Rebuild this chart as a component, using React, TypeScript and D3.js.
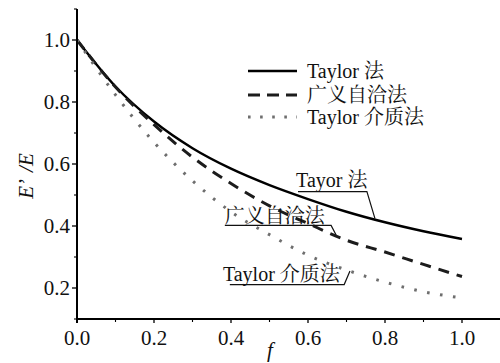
import React from 'react';
import * as d3 from 'd3';

// volume fraction f
const fValues = [0, 0.1, 0.2, 0.3, 0.4, 0.5, 0.6, 0.7, 0.8, 0.9, 1.0];
// E'/E for each method
const taylorValues = [1.0, 0.85, 0.737, 0.651, 0.585, 0.532, 0.487, 0.446, 0.412, 0.383, 0.358];
const selfConsistentValues = [1.0, 0.848, 0.727, 0.622, 0.537, 0.465, 0.408, 0.354, 0.316, 0.276, 0.237];
const mediumValues = [1.0, 0.823, 0.67, 0.546, 0.446, 0.372, 0.306, 0.258, 0.219, 0.188, 0.168];

const seriesNames = ['Taylor 法', '广义自洽法', 'Taylor 介质法'];
const calloutNames = ['Tayor 法', '广义自洽法', 'Taylor 介质法'];

const xMajorTicks = [0, 0.2, 0.4, 0.6, 0.8, 1.0];
const xMinorTicks = [0.1, 0.3, 0.5, 0.7, 0.9];
const yMajorTicks = [0.2, 0.4, 0.6, 0.8, 1.0];
const yMinorTicks = [0.1, 0.3, 0.5, 0.7, 0.9, 1.1];

const WIDTH = 500;
const HEIGHT = 363;
const FONT = '"Liberation Serif", "Noto Serif CJK SC", serif';

const x = d3.scaleLinear().domain([0, 1.1]).range([77, 500.5]);
const y = d3.scaleLinear().domain([0.1, 1.1]).range([319, 9]);

type Pt = [number, number];

const line = d3.line<Pt>()
  .x(d => x(d[0]))
  .y(d => y(d[1]))
  .curve(d3.curveMonotoneX);

const zip = (vals: number[]): Pt[] => fValues.map((f, i) => [f, vals[i]]);

const styles = [
  { stroke: '#000', width: 2.4, dash: null as string | null },
  { stroke: '#1c1c1c', width: 3, dash: '11,8' },
  { stroke: '#6e6e6e', width: 3, dash: '2.6,10.5' },
];

// callout anchors in data units: text start, underline end, leader end
const callouts = [
  { tx: 0.569, ty: 0.526, ux0: 0.574, ux1: 0.753, uy: 0.511, lx: 0.774, ly: 0.424 },
  { tx: 0.384, ty: 0.41, ux0: 0.384, ux1: 0.66, uy: 0.402, lx: 0.673, ly: 0.371 },
  { tx: 0.379, ty: 0.2226, ux0: 0.397, ux1: 0.694, uy: 0.211, lx: 0.709, ly: 0.255 },
];

export default function App() {
  const data = [taylorValues, selfConsistentValues, mediumValues].map(zip);
  const legendY = [71, 95, 117];

  return (
    <svg
      width={WIDTH}
      height={HEIGHT}
      style={{ position: 'absolute', left: 0, top: 0, background: '#fff', fontFamily: FONT }}
    >
      {/* curves */}
      {data.map((d, i) => (
        <path
          key={i}
          d={line(d) || ''}
          fill="none"
          stroke={styles[i].stroke}
          strokeWidth={styles[i].width}
          strokeDasharray={styles[i].dash || undefined}
        />
      ))}

      {/* axes */}
      <g stroke="#000" strokeWidth={2}>
        <line x1={x(0)} x2={x(0)} y1={y(1.1)} y2={y(0.1) + 4} />
        <line x1={x(0) - 1} x2={WIDTH} y1={y(0.1)} y2={y(0.1)} />
        {xMajorTicks.map(t => (
          <line key={'xM' + t} x1={x(t)} x2={x(t)} y1={y(0.1)} y2={y(0.1) + 4} strokeWidth={1.3} />
        ))}
        {xMinorTicks.map(t => (
          <line key={'xm' + t} x1={x(t)} x2={x(t)} y1={y(0.1)} y2={y(0.1) + 3} strokeWidth={1.1} />
        ))}
        {yMajorTicks.map(t => (
          <line key={'yM' + t} x1={x(0) - 5} x2={x(0)} y1={y(t)} y2={y(t)} strokeWidth={1.3} />
        ))}
        {yMinorTicks.map(t => (
          <line key={'ym' + t} x1={x(0) - 3} x2={x(0)} y1={y(t)} y2={y(t)} strokeWidth={1.1} />
        ))}
      </g>

      {/* tick labels */}
      <g fontSize={21} fill="#111">
        {xMajorTicks.map(t => (
          <text key={'xl' + t} x={x(t)} y={345} textAnchor="middle">{d3.format('.1f')(t)}</text>
        ))}
        {yMajorTicks.map(t => (
          <text key={'yl' + t} x={70} y={y(t)} dy="0.34em" textAnchor="end">{d3.format('.1f')(t)}</text>
        ))}
      </g>

      {/* axis titles */}
      <text
        transform={`translate(33, 176) rotate(-90)`}
        textAnchor="middle"
        fontSize={21}
        fontStyle="italic"
        fill="#111"
      >
        <tspan>E’</tspan>
        <tspan dx={7}>/E</tspan>
      </text>
      <text x={270} y={357} textAnchor="middle" fontSize={21} fontStyle="italic" fill="#111">
        f
      </text>

      {/* legend */}
      {seriesNames.map((name, i) => (
        <g key={'lg' + i}>
          <line
            x1={248}
            x2={297}
            y1={legendY[i]}
            y2={legendY[i]}
            stroke={styles[i].stroke}
            strokeWidth={styles[i].width}
            strokeDasharray={i === 1 ? '12,7' : i === 2 ? '2.6,9.5' : undefined}
          />
          <text x={307} y={legendY[i] + 6.5} fontSize={20} fill="#111">
            {name}
          </text>
        </g>
      ))}

      {/* callouts */}
      {callouts.map((c, i) => (
        <g key={'co' + i}>
          <text x={x(c.tx)} y={y(c.ty)} fontSize={20} fill="#111">
            {calloutNames[i]}
          </text>
          <polyline
            points={`${x(c.ux0)},${y(c.uy)} ${x(c.ux1)},${y(c.uy)} ${x(c.lx)},${y(c.ly)}`}
            fill="none"
            stroke="#111"
            strokeWidth={1.2}
          />
        </g>
      ))}
    </svg>
  );
}
